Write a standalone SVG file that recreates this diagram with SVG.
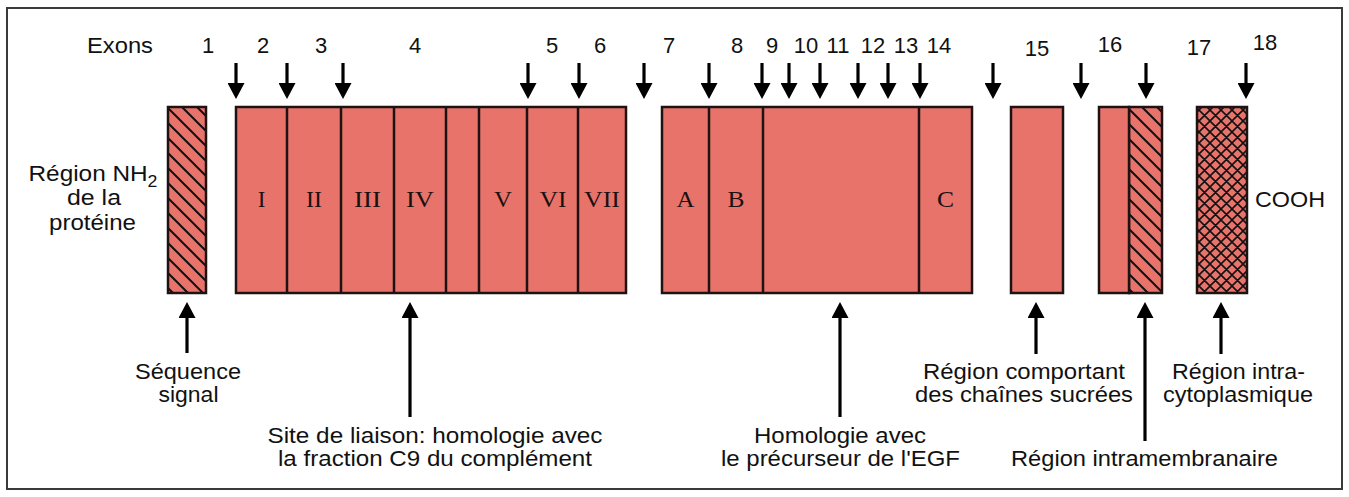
<svg xmlns="http://www.w3.org/2000/svg" width="1349" height="497" viewBox="0 0 1349 497">
  <defs>
    <style>
      .frame { fill: #fff; stroke: #3a3a3a; stroke-width: 2; }
      .box { fill: #e8736b; stroke: #1e1212; stroke-width: 2.5; }
      .div { stroke: #1e1212; stroke-width: 2.5; }
      .hatch { fill: url(#hatch); stroke: #1e1212; stroke-width: 2.5; }
      .cross { fill: url(#cross); stroke: #1e1212; stroke-width: 2.5; }
      .arr { stroke: #000; stroke-width: 3.2; fill: none; }
      .t { font-family: "Liberation Sans", Arial, Helvetica, sans-serif; font-size: 22px; fill: #111; text-anchor: middle; }
      .rom { font-family: "Liberation Serif", "Times New Roman", serif; font-size: 23px; fill: #1a1010; text-anchor: middle; }
    </style>
    <marker id="head" viewBox="0 0 16 17" refX="0" refY="8.5" markerWidth="16" markerHeight="17" markerUnits="userSpaceOnUse" orient="auto">
      <path d="M0,0 L16,8.5 L0,17 z" fill="#000"/>
    </marker>
    <!-- single diagonal hatching (top-left to bottom-right) -->
    <pattern id="hatch" patternUnits="userSpaceOnUse" width="15" height="15">
      <rect width="15" height="15" fill="#e8736b"/>
      <path d="M0,0 L15,15 M-2,13 L2,17 M13,-2 L17,2" stroke="#111" stroke-width="2"/>
    </pattern>
    <!-- cross hatching -->
    <pattern id="cross" patternUnits="userSpaceOnUse" width="11" height="11">
      <rect width="11" height="11" fill="#e8736b"/>
      <path d="M0,0 L11,11 M11,0 L0,11 M-1,10 L1,12 M10,-1 L12,1 M-1,1 L1,-1 M10,12 L12,10" stroke="#111" stroke-width="1.6"/>
    </pattern>
  </defs>

  <rect class="frame" x="7" y="8" width="1335" height="481"/>

  <!-- exon numbering -->
  <g id="exon-numbers">
    <text class="t" x="120" y="53" textLength="66" lengthAdjust="spacingAndGlyphs">Exons</text>
    <text class="t" x="208" y="53">1</text>
    <text class="t" x="263" y="53">2</text>
    <text class="t" x="321" y="53">3</text>
    <text class="t" x="415" y="53">4</text>
    <text class="t" x="552" y="53">5</text>
    <text class="t" x="600" y="53">6</text>
    <text class="t" x="669" y="53">7</text>
    <text class="t" x="737" y="53">8</text>
    <text class="t" x="772" y="53">9</text>
    <text class="t" x="806" y="53">10</text>
    <text class="t" x="838" y="53">11</text>
    <text class="t" x="873" y="53">12</text>
    <text class="t" x="906" y="53">13</text>
    <text class="t" x="939" y="53">14</text>
    <text class="t" x="1037" y="56">15</text>
    <text class="t" x="1110" y="52">16</text>
    <text class="t" x="1199" y="55">17</text>
    <text class="t" x="1265" y="50">18</text>
  </g>

  <!-- N-terminal label -->
  <g id="nh2-label">
    <text class="t" x="93" y="181" textLength="129" lengthAdjust="spacingAndGlyphs">Région NH<tspan font-size="16" dy="6">2</tspan></text>
    <text class="t" x="94" y="205" textLength="54" lengthAdjust="spacingAndGlyphs">de la</text>
    <text class="t" x="92.5" y="230" textLength="87" lengthAdjust="spacingAndGlyphs">protéine</text>
  </g>

  <!-- signal sequence -->
  <g id="signal">
    <rect class="hatch" x="168" y="107" width="38" height="186"/>
  </g>

  <!-- C9-homologous domain, repeats I to VII -->
  <g id="c9-domain">
    <rect class="box" x="236" y="107" width="390" height="186"/>
    <line class="div" x1="287" y1="107" x2="287" y2="293"/>
    <line class="div" x1="341" y1="107" x2="341" y2="293"/>
    <line class="div" x1="394" y1="107" x2="394" y2="293"/>
    <line class="div" x1="446" y1="107" x2="446" y2="293"/>
    <line class="div" x1="479" y1="107" x2="479" y2="293"/>
    <line class="div" x1="527" y1="107" x2="527" y2="293"/>
    <line class="div" x1="578" y1="107" x2="578" y2="293"/>
    <text class="rom" x="261.5" y="207">I</text>
    <text class="rom" x="314" y="207" textLength="16" lengthAdjust="spacingAndGlyphs">II</text>
    <text class="rom" x="367.5" y="207" textLength="27" lengthAdjust="spacingAndGlyphs">III</text>
    <text class="rom" x="420" y="207" textLength="28" lengthAdjust="spacingAndGlyphs">IV</text>
    <text class="rom" x="503" y="207" textLength="18" lengthAdjust="spacingAndGlyphs">V</text>
    <text class="rom" x="553" y="207" textLength="27" lengthAdjust="spacingAndGlyphs">VI</text>
    <text class="rom" x="602" y="207" textLength="36" lengthAdjust="spacingAndGlyphs">VII</text>
  </g>

  <!-- EGF-precursor homology domain -->
  <g id="egf-domain">
    <rect class="box" x="662" y="107" width="310" height="186"/>
    <line class="div" x1="709" y1="107" x2="709" y2="293"/>
    <line class="div" x1="763" y1="107" x2="763" y2="293"/>
    <line class="div" x1="919" y1="107" x2="919" y2="293"/>
    <text class="rom" x="685.5" y="207" textLength="18" lengthAdjust="spacingAndGlyphs">A</text>
    <text class="rom" x="736" y="207" textLength="17" lengthAdjust="spacingAndGlyphs">B</text>
    <text class="rom" x="945.5" y="207" textLength="17" lengthAdjust="spacingAndGlyphs">C</text>
  </g>

  <!-- glycosylated region -->
  <g id="sugar-region">
    <rect class="box" x="1011" y="107" width="52" height="186"/>
  </g>

  <!-- transmembrane region -->
  <g id="membrane-region">
    <rect class="hatch" x="1129" y="107" width="33" height="186"/>
    <rect class="box" x="1099" y="107" width="30" height="186"/>
  </g>

  <!-- cytoplasmic region -->
  <g id="cyto-region">
    <rect class="cross" x="1197" y="107" width="50" height="186"/>
    <text class="t" x="1290" y="207" textLength="70" lengthAdjust="spacingAndGlyphs">COOH</text>
  </g>

  <!-- connectors: intron positions (down) and region pointers (up) -->
  <g id="connectors">
    <g class="arr" marker-end="url(#head)">
      <line x1="236" y1="63" x2="236" y2="83"/>
      <line x1="287" y1="63" x2="287" y2="83"/>
      <line x1="343" y1="63" x2="343" y2="83"/>
      <line x1="528" y1="63" x2="528" y2="83"/>
      <line x1="579" y1="63" x2="579" y2="83"/>
      <line x1="644" y1="63" x2="644" y2="83"/>
      <line x1="709" y1="63" x2="709" y2="83"/>
      <line x1="762" y1="63" x2="762" y2="83"/>
      <line x1="789" y1="63" x2="789" y2="83"/>
      <line x1="820" y1="63" x2="820" y2="83"/>
      <line x1="858" y1="63" x2="858" y2="83"/>
      <line x1="888" y1="63" x2="888" y2="83"/>
      <line x1="920" y1="63" x2="920" y2="83"/>
      <line x1="993" y1="63" x2="993" y2="83"/>
      <line x1="1081" y1="63" x2="1081" y2="83"/>
      <line x1="1146" y1="63" x2="1146" y2="83"/>
      <line x1="1246" y1="63" x2="1246" y2="83"/>

      <line x1="187" y1="353" x2="187" y2="318"/>
      <line x1="410" y1="417" x2="410" y2="318"/>
      <line x1="840" y1="417" x2="840" y2="318"/>
      <line x1="1036" y1="354" x2="1036" y2="318"/>
      <line x1="1145" y1="441" x2="1145" y2="318"/>
      <line x1="1221" y1="354" x2="1221" y2="318"/>
    </g>
  </g>

  <!-- region captions -->
  <g id="caption-signal">
    <text class="t" x="188" y="379" textLength="106" lengthAdjust="spacingAndGlyphs">Séquence</text>
    <text class="t" x="188.5" y="402" textLength="60" lengthAdjust="spacingAndGlyphs">signal</text>
  </g>
  <g id="caption-c9">
    <text class="t" x="435" y="443" textLength="335" lengthAdjust="spacingAndGlyphs">Site de liaison: homologie avec</text>
    <text class="t" x="435" y="466" textLength="314" lengthAdjust="spacingAndGlyphs">la fraction C9 du complément</text>
  </g>
  <g id="caption-egf">
    <text class="t" x="840" y="443" textLength="172" lengthAdjust="spacingAndGlyphs">Homologie avec</text>
    <text class="t" x="840.5" y="466" textLength="239" lengthAdjust="spacingAndGlyphs">le précurseur de l'EGF</text>
  </g>
  <g id="caption-sugar">
    <text class="t" x="1024" y="379" textLength="202" lengthAdjust="spacingAndGlyphs">Région comportant</text>
    <text class="t" x="1024" y="402" textLength="218" lengthAdjust="spacingAndGlyphs">des chaînes sucrées</text>
  </g>
  <g id="caption-membrane">
    <text class="t" x="1144.5" y="466" textLength="267" lengthAdjust="spacingAndGlyphs">Région intramembranaire</text>
  </g>
  <g id="caption-cyto">
    <text class="t" x="1238.5" y="379" textLength="133" lengthAdjust="spacingAndGlyphs">Région intra-</text>
    <text class="t" x="1238" y="402" textLength="150" lengthAdjust="spacingAndGlyphs">cytoplasmique</text>
  </g>
</svg>
